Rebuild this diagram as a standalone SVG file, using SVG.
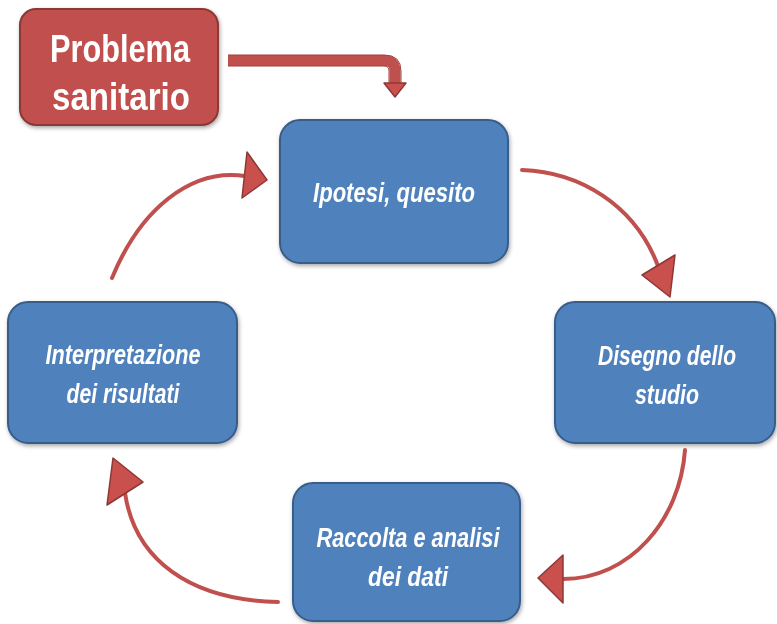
<svg xmlns="http://www.w3.org/2000/svg" width="777" height="624" viewBox="0 0 777 624">
<defs>
<filter id="sh" x="-10%" y="-10%" width="130%" height="130%">
<feGaussianBlur in="SourceAlpha" stdDeviation="2"/>
<feOffset dx="1" dy="2" result="b"/>
<feComponentTransfer><feFuncA type="linear" slope="0.35"/></feComponentTransfer>
<feMerge><feMergeNode/><feMergeNode in="SourceGraphic"/></feMerge>
</filter>
</defs>
<style>
.blue{fill:#4F81BD;stroke:#385D8A;stroke-width:2}
.red{fill:#C0504D;stroke:#8C3836;stroke-width:2}
.t{font-family:"Liberation Sans Narrow","Liberation Sans",sans-serif;font-weight:bold;font-style:italic;font-size:27px;fill:#fff;text-anchor:middle}
.tr{font-family:"Liberation Sans Narrow","Liberation Sans",sans-serif;font-weight:bold;font-size:39px;fill:#fff;text-anchor:middle}
.c{fill:none;stroke:#C0504D;stroke-width:4;stroke-linecap:round}
.h{fill:#C9504D;stroke:#8C3836;stroke-width:1.5;stroke-linejoin:round}
</style>
<rect width="777" height="624" fill="#fff"/>
<g id="problema" filter="url(#sh)">
<rect class="red" x="20" y="9" width="198" height="116" rx="16"/>
<text class="tr" x="120" y="62" textLength="140" lengthAdjust="spacingAndGlyphs">Problema</text>
<text class="tr" x="121" y="110" textLength="138" lengthAdjust="spacingAndGlyphs">sanitario</text>
</g>
<g id="ipotesi" filter="url(#sh)">
<rect class="blue" x="280" y="120" width="228" height="143" rx="20"/>
<text class="t" x="394" y="202" textLength="162" lengthAdjust="spacingAndGlyphs">Ipotesi, quesito</text>
</g>
<g id="disegno" filter="url(#sh)">
<rect class="blue" x="555" y="302" width="220" height="141" rx="20"/>
<text class="t" x="667" y="365" textLength="138" lengthAdjust="spacingAndGlyphs">Disegno dello</text>
<text class="t" x="667" y="404" textLength="64" lengthAdjust="spacingAndGlyphs">studio</text>
</g>
<g id="raccolta" filter="url(#sh)">
<rect class="blue" x="293" y="483" width="227" height="138" rx="20"/>
<text class="t" x="408" y="547" textLength="183" lengthAdjust="spacingAndGlyphs">Raccolta e analisi</text>
<text class="t" x="408" y="586" textLength="80" lengthAdjust="spacingAndGlyphs">dei dati</text>
</g>
<g id="interpretazione" filter="url(#sh)">
<rect class="blue" x="8" y="302" width="229" height="141" rx="20"/>
<text class="t" x="123" y="364" textLength="155" lengthAdjust="spacingAndGlyphs">Interpretazione</text>
<text class="t" x="123" y="403" textLength="113" lengthAdjust="spacingAndGlyphs">dei risultati</text>
</g>
<g id="connectors">
<path d="M228,60.5 H384 Q395,60.5 395,71 V83" fill="none" stroke="#C0504D" stroke-width="11"/>
<path d="M228,55 H384 Q401,55 401,71 V83 M228,66 H384 Q389,66 389,71 V83" fill="none" stroke="#9E3F3C" stroke-width="1"/>
<polygon class="h" points="384,83 406,83 395,97"/>
<path class="c" d="M522,170 C580,172 635,205 658,266"/>
<polygon class="h" points="642,275 675,255 670,297"/>
<path class="c" d="M685,450 C680,520 630,579 563,579"/>
<polygon class="h" points="563,555 563,603 538,578"/>
<path class="c" d="M278,602 C190,600 135,560 125,493"/>
<polygon class="h" points="107,505 143,482 113,458"/>
<path class="c" d="M112,278 C140,210 190,168 245,176"/>
<polygon class="h" points="242,198 247,152 267,180"/>
</g>
</svg>
